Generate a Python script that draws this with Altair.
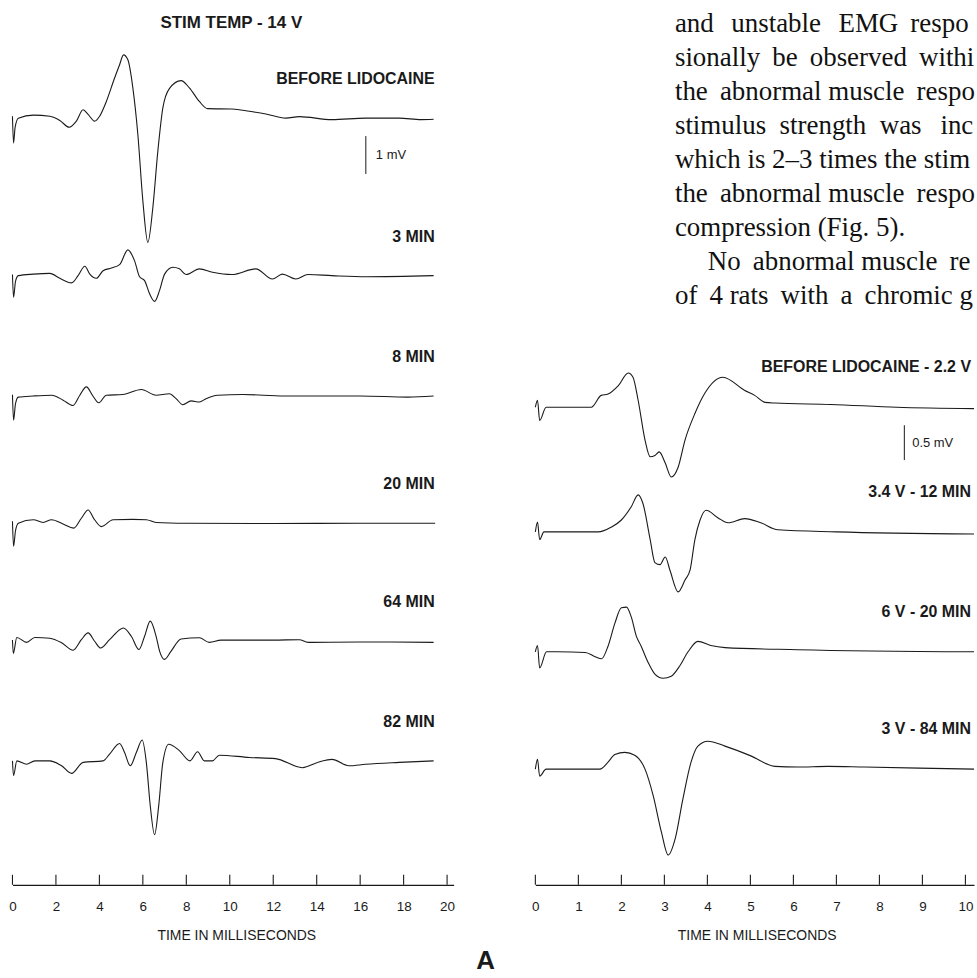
import altair as alt
import pandas as pd

# ---------------- data: time in ms, amplitude in mV ----------------
LEFT_TITLE = "STIM TEMP - 14 V"
LEFT_LABELS = ["BEFORE LIDOCAINE", "3 MIN", "8 MIN", "20 MIN", "64 MIN", "82 MIN"]

L1_T = [0, 0.05, 0.12, 0.27, 0.96, 1.72, 2.18, 2.61, 2.94, 3.25, 3.48, 3.78, 4.01, 4.32, 4.7, 4.93, 5.11, 5.31, 5.54, 5.77,
        6.0, 6.23, 6.46, 6.69, 6.92, 7.22, 7.76, 8.14, 8.6, 8.98, 10.12, 10.9, 11.66, 12.58, 13.2, 14.7, 16.25, 17.8, 18.8, 19.38]
L1_V = [0.05, -0.66, -0.25, 0.0, 0.08, 0.05, -0.06, -0.24, -0.08, 0.22, 0.1, -0.08, 0.05, 0.44, 1.06, 1.41, 1.67, 1.54, 0.8, -0.43,
        -2.18, -3.28, -2.36, -0.87, 0.27, 0.78, 0.99, 0.8, 0.44, 0.25, 0.24, 0.18, 0.11, 0.0, 0.04, -0.04, 0.0, 0.0, -0.04, -0.03]

L2_T = [0, 0.05, 0.14, 0.27, 0.96, 1.72, 2.18, 2.72, 3.02, 3.33, 3.56, 3.86, 4.17, 4.55, 4.93, 5.31, 5.62, 5.85, 6.08,
        6.31, 6.54, 6.77, 7.0, 7.38, 7.68, 7.99, 8.6, 9.21, 10.1, 11.2, 11.96, 12.42, 13.04, 13.6, 14.7, 16.3, 19.38]
L2_V = [0.03, -0.57, -0.15, 0.0, 0.04, 0.06, -0.07, -0.19, 0.0, 0.25, 0.04, -0.07, 0.13, 0.2, 0.29, 0.68, 0.39, -0.03, -0.13,
        -0.48, -0.68, -0.39, 0.04, 0.22, 0.18, 0.03, 0.18, 0.09, 0.03, 0.18, -0.09, 0.04, -0.09, 0.03, 0.0, -0.03, 0.0]

L3_T = [0, 0.05, 0.14, 0.27, 0.96, 1.8, 2.33, 2.79, 3.1, 3.4, 3.7, 3.97, 4.32, 5.08, 5.93, 6.61, 7.22, 7.53, 7.84, 8.22,
        8.6, 8.91, 9.44, 10.6, 12.5, 16.0, 18.2, 19.38]
L3_V = [0.03, -0.64, -0.2, -0.03, 0.0, 0.02, -0.11, -0.25, 0.02, 0.24, 0.0, -0.18, 0.02, 0.04, 0.17, 0.02, 0.06, -0.07, -0.23, -0.13,
        -0.16, -0.07, 0.02, 0.04, 0.0, 0.0, -0.03, 0.0]

L4_T = [0, 0.05, 0.14, 0.27, 0.96, 1.41, 1.8, 2.33, 2.82, 3.17, 3.48, 3.78, 4.09, 4.63, 5.54, 6.16, 6.61, 8.0, 12.0, 16.0, 19.45]
L4_V = [0.05, -0.61, -0.2, 0.0, 0.09, 0.02, 0.09, -0.02, -0.13, 0.13, 0.35, 0.09, -0.09, 0.09, 0.1, 0.09, 0.02, 0.0, -0.01, 0.0, 0.0]

L5_T = [0, 0.04, 0.2, 0.65, 1.03, 1.72, 2.26, 2.79, 3.17, 3.48, 3.78, 4.06, 4.47, 5.11, 5.47, 5.82, 6.08, 6.34, 6.61, 6.77,
        7.0, 7.3, 7.76, 8.6, 9.06, 9.6, 12.0, 13.2, 13.6, 16.0, 19.38]
L5_V = [0.03, -0.32, 0.1, -0.03, 0.1, 0.08, -0.04, -0.24, 0.04, 0.22, 0.0, -0.18, 0.04, 0.35, 0.13, -0.22, 0.13, 0.53, 0.13, -0.26,
        -0.48, -0.26, 0.06, 0.09, -0.03, 0.03, 0.03, 0.04, -0.03, -0.02, -0.03]

L6_T = [0, 0.05, 0.2, 0.65, 1.03, 1.72, 2.26, 2.72, 3.25, 4.17, 4.47, 4.93, 5.16, 5.42, 5.7, 5.97, 6.16, 6.34, 6.54, 6.73,
        6.92, 7.19, 7.68, 8.17, 8.52, 8.83, 9.2, 9.52, 10.9, 12.1, 13.34, 14.1, 14.7, 15.48, 16.25, 17.8, 19.38]
L6_V = [0.0, -0.39, 0.0, -0.09, 0.0, 0.0, -0.13, -0.33, -0.04, 0.0, 0.18, 0.46, 0.22, -0.13, 0.22, 0.55, -0.04, -1.18, -1.95, -1.18,
        -0.04, 0.44, 0.27, 0.0, 0.24, 0.0, 0.0, 0.15, 0.09, 0.06, -0.18, -0.03, 0.04, -0.13, -0.09, -0.04, 0.0]

RIGHT_LABELS = ["BEFORE LIDOCAINE - 2.2 V", "3.4 V - 12 MIN", "6 V - 20 MIN", "3 V - 84 MIN"]

R1_T = [0, 0.05, 0.1, 0.25, 1.3, 1.53, 1.69, 1.93, 2.16, 2.27, 2.39, 2.55, 2.67, 2.78, 2.88, 3.02, 3.16, 3.32, 3.48, 3.71,
        3.94, 4.36, 4.87, 5.1, 5.34, 5.57, 6.87, 8.4, 10.2]
R1_V = [0, 0.1, -0.19, 0.0, 0.0, 0.17, 0.19, 0.31, 0.49, 0.43, 0.1, -0.47, -0.71, -0.69, -0.64, -0.8, -1.0, -0.86, -0.47, -0.09,
        0.2, 0.43, 0.24, 0.17, 0.07, 0.06, 0.04, 0.0, -0.02]

R2_T = [0, 0.05, 0.1, 0.2, 1.46, 1.77, 2.0, 2.23, 2.39, 2.5, 2.67, 2.78, 2.9, 3.02, 3.13, 3.32, 3.48, 3.6, 3.71, 3.83,
        3.97, 4.25, 4.48, 4.87, 5.24, 5.64, 7.0, 10.2]
R2_V = [0, 0.14, -0.11, 0.0, 0.0, 0.07, 0.17, 0.36, 0.53, 0.41, -0.11, -0.44, -0.47, -0.36, -0.55, -0.86, -0.69, -0.54, -0.11, 0.17,
        0.31, 0.2, 0.13, 0.19, 0.13, 0.03, 0.0, -0.03]

R3_T = [0, 0.05, 0.1, 0.26, 0.5, 1.16, 1.39, 1.54, 1.69, 1.85, 2.0, 2.12, 2.23, 2.35, 2.46, 2.62, 2.78, 2.97, 3.16, 3.36,
        3.55, 3.78, 4.08, 4.41, 6.1, 10.2]
R3_V = [0, 0.09, -0.23, 0.0, 0.0, -0.01, -0.07, -0.1, 0.08, 0.41, 0.63, 0.64, 0.5, 0.22, 0.08, -0.15, -0.32, -0.38, -0.35, -0.2,
        0.0, 0.15, 0.09, 0.06, 0.03, 0.0]

R4_T = [0, 0.05, 0.1, 0.25, 1.5, 1.69, 1.85, 2.08, 2.31, 2.55, 2.74, 2.93, 3.09, 3.25, 3.43, 3.62, 3.78, 4.01, 4.41, 5.01,
        5.57, 6.1, 6.8, 7.65, 10.2]
R4_V = [0, 0.14, -0.1, 0.0, 0.0, 0.1, 0.21, 0.24, 0.2, 0.0, -0.38, -0.9, -1.23, -1.0, -0.43, 0.1, 0.33, 0.4, 0.33, 0.19,
        0.04, 0.03, 0.04, 0.03, 0.0]

LEFT_TICKS = [0, 2, 4, 6, 8, 10, 12, 14, 16, 18, 20]
RIGHT_TICKS = [0, 1, 2, 3, 4, 5, 6, 7, 8, 9, 10]
AXIS_TITLE = "TIME IN MILLISECONDS"
LEFT_BAR_MV, LEFT_BAR_TEXT = 1.0, "1 mV"
RIGHT_BAR_MV, RIGHT_BAR_TEXT = 0.5, "0.5 mV"
PANEL_LETTER = "A"

# body text of the page, as far as it is visible before the page edge;
# thin spaces mimic the justified word spacing of the original
TS = "\u2009"
BODY_P1 = [f"and {TS}{TS}unstable {TS}{TS}EMG {TS}respo",
           f"sionally {TS}be {TS}observed {TS}withi",
           f"the {TS}abnormal muscle {TS}respo",
           f"stimulus\u00a0 strength\u00a0 was\u00a0 {TS}inc",
           "which is 2\u20133 times the stim",
           f"the {TS}abnormal muscle {TS}respo",
           "compression (Fig. 5)."]
BODY_P2 = [f"No {TS}abnormal muscle {TS}re",
           f"of {TS}4 rats {TS}with {TS}a {TS}chromic g"]

# ---------------- layout (pixels) ----------------
W, H = 977, 886
L_PX_PER_MV, R_PX_PER_MV = 38.0, 70.0
L_BASE_PX = [117, 275, 395.7, 523.3, 641.7, 761.7]
R_BASE_PX = [407, 532, 652.3, 770]
L_XDOM, L_XRANGE = [0, 20.3], [12.5, 455]
R_XDOM, R_XRANGE = [0, 10.2], [537, 977]

INK = "#1a1a1a"
SANS = "Liberation Sans"

left_series = [(L1_T, L1_V), (L2_T, L2_V), (L3_T, L3_V), (L4_T, L4_V), (L5_T, L5_V), (L6_T, L6_V)]
right_series = [(R1_T, R1_V), (R2_T, R2_V), (R3_T, R3_V), (R4_T, R4_V)]


def build_frames(series, labels, base_px, px_per_mv):
    rows, lab = [], []
    for (ts, vs), name, bpx in zip(series, labels, base_px):
        assert len(ts) == len(vs), name
        off = -bpx / px_per_mv
        for t, v in zip(ts, vs):
            rows.append({"trace": name, "t": t, "v": v, "off": off})
        lab.append({"label": name, "off": off})
    return pd.DataFrame(rows), pd.DataFrame(lab)


def panel(series, labels, base_px, px_per_mv, xdom, xrange, ticks, label_right_px,
          title_x, bar_t, bar_top_px, bar_mv, bar_text, bar_text_px, label_dy):
    traces, labs = build_frames(series, labels, base_px, px_per_mv)
    yscale = alt.Scale(domain=[-H / px_per_mv, 0], range=[H, 0], nice=False, zero=False)
    xscale = alt.Scale(domain=xdom, range=xrange, nice=False, zero=False)
    xaxis = alt.Axis(values=ticks, orient="bottom", title=AXIS_TITLE, ticks=False, grid=False,
                     domainColor=INK, domainWidth=1.2, labelFont=SANS, labelFontSize=13.5,
                     labelColor=INK, labelPadding=15, labelFlush=False, labelOverlap=False,
                     titleFont=SANS, titleFontSize=14, titleFontWeight="normal", titleColor=INK,
                     titleX=title_x, titleY=51, titleBaseline="middle", titleAnchor="middle")

    def X(field):
        return alt.X(f"{field}:Q", scale=xscale, axis=xaxis)

    def Y(field):
        return alt.Y(f"{field}:Q", scale=yscale, axis=None)

    lines = alt.Chart(traces).mark_line(color=INK, strokeWidth=1.1, interpolate="monotone").transform_calculate(
        y="datum.v + datum.off").encode(x=X("t"), y=Y("y"), detail="trace:N")

    tick_rules = alt.Chart(pd.DataFrame({"t": ticks})).mark_rule(color=INK, strokeWidth=1.1).encode(
        x=X("t"), y=alt.value(H - 10), y2=alt.value(H))

    texts = alt.Chart(labs).mark_text(align="right", baseline="middle", dy=label_dy, font=SANS,
                                      fontWeight="bold", fontSize=16, color=INK).encode(
        x=alt.value(label_right_px), y=Y("off"), text="label:N")

    top = -bar_top_px / px_per_mv
    bar_df = pd.DataFrame({"t": [bar_t], "top": [top], "bot": [top - bar_mv],
                           "mid": [top - bar_mv / 2], "txt": [bar_text]})
    bar = alt.Chart(bar_df).mark_rule(color=INK, strokeWidth=1).encode(x=X("t"), y=Y("top"), y2="bot")
    bar_lab = alt.Chart(bar_df).mark_text(align="left", baseline="middle", font=SANS, fontSize=13,
                                          color=INK).encode(x=alt.value(bar_text_px), y=Y("mid"), text="txt:N")
    return alt.layer(lines, tick_rules, texts, bar, bar_lab)


left = panel(left_series, LEFT_LABELS, L_BASE_PX, L_PX_PER_MV, L_XDOM, L_XRANGE, LEFT_TICKS, 436,
             237, 16.26, 135, LEFT_BAR_MV, LEFT_BAR_TEXT, 377, -39)
right = panel(right_series, RIGHT_LABELS, R_BASE_PX, R_PX_PER_MV, R_XDOM, R_XRANGE, RIGHT_TICKS, 974,
              759, 8.58, 425, RIGHT_BAR_MV, RIGHT_BAR_TEXT, 915, -40)

# free-standing texts
title = alt.Chart(pd.DataFrame({"s": [LEFT_TITLE]})).mark_text(
    align="center", baseline="middle", font=SANS, fontWeight="bold", fontSize=17, color=INK).encode(
    x=alt.value(232), y=alt.value(22), text="s:N")
letter = alt.Chart(pd.DataFrame({"s": [PANEL_LETTER]})).mark_text(
    align="center", baseline="middle", font=SANS, fontWeight="bold", fontSize=26, color=INK).encode(
    x=alt.value(487), y=alt.value(962), text="s:N")

body_df = pd.DataFrame({"s": BODY_P1 + BODY_P2, "line": list(range(len(BODY_P1) + len(BODY_P2))),
                        "indent": [0] * len(BODY_P1) + [1] + [0] * (len(BODY_P2) - 1)})
line_scale = alt.Scale(domain=[0, 8], range=[23, 295], nice=False, zero=False)
body = alt.Chart(body_df).mark_text(align="left", baseline="middle", font="Liberation Serif",
                                    fontSize=27, color="#111").encode(
    x=alt.X("indent:Q", scale=alt.Scale(domain=[0, 1], range=[677, 710], nice=False, zero=False), axis=None),
    y=alt.Y("line:Q", scale=line_scale, axis=None), text="s:N")
free = alt.layer(title, letter, body)

chart = alt.layer(left, right, free).resolve_scale(x="independent", y="independent").properties(
    width=W, height=H, padding=0, background="white").configure_view(stroke=None)

chart.save("out.html", embed_options={"renderer": "svg", "actions": False})
